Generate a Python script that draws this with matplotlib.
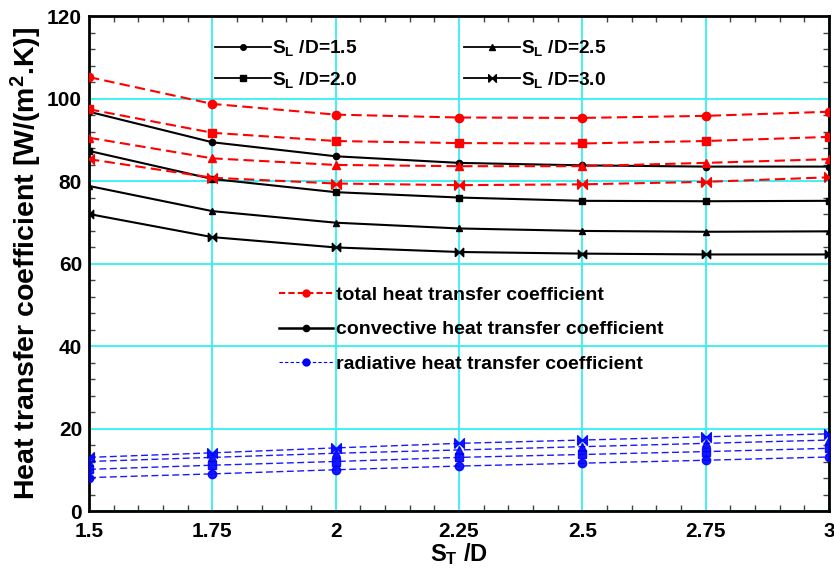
import numpy as np
import matplotlib
matplotlib.use("Agg")
import matplotlib.pyplot as plt
from matplotlib.lines import Line2D
from matplotlib.ticker import MultipleLocator

plt.rcParams["font.family"] = "Liberation Sans"
plt.rcParams["font.weight"] = "bold"
plt.rcParams["axes.labelweight"] = "bold"
plt.rcParams["mathtext.fontset"] = "custom"
plt.rcParams["mathtext.rm"] = "Liberation Sans:bold"
plt.rcParams["mathtext.it"] = "Liberation Sans:bold"
plt.rcParams["mathtext.bf"] = "Liberation Sans:bold"
plt.rcParams["mathtext.default"] = "rm"

# S_T/D values
st_d = [1.5, 1.75, 2.0, 2.25, 2.5, 2.75, 3.0]
st_labels = ["1.5", "1.75", "2", "2.25", "2.5", "2.75", "3"]
sl_d = ["1.5", "2.0", "2.5", "3.0"]

# total heat transfer coefficient, one list per S_L/D
h_total_15 = [105.2, 98.7, 96.1, 95.4, 95.3, 95.8, 96.8]
h_total_20 = [97.4, 91.7, 89.7, 89.2, 89.1, 89.7, 90.7]
h_total_25 = [90.5, 85.5, 83.9, 83.6, 83.6, 84.4, 85.3]
h_total_30 = [85.3, 80.8, 79.4, 79.0, 79.2, 79.8, 80.9]

# convective part
h_conv_15 = [96.8, 89.4, 86.0, 84.4, 83.8, 83.5, 83.5]
h_conv_20 = [87.3, 80.5, 77.3, 76.0, 75.2, 75.1, 75.2]
h_conv_25 = [78.8, 72.7, 69.9, 68.5, 67.9, 67.7, 67.8]
h_conv_30 = [72.0, 66.4, 63.9, 62.8, 62.4, 62.2, 62.2]

# radiative part
h_rad_15 = [8.1, 9.0, 10.0, 10.9, 11.6, 12.3, 13.1]
h_rad_20 = [10.1, 11.1, 12.0, 13.0, 13.7, 14.4, 15.2]
h_rad_25 = [12.0, 13.0, 14.0, 14.8, 15.6, 16.4, 17.2]
h_rad_30 = [13.0, 14.1, 15.3, 16.4, 17.2, 18.0, 18.7]

h_total = [h_total_15, h_total_20, h_total_25, h_total_30]
h_conv = [h_conv_15, h_conv_20, h_conv_25, h_conv_30]
h_rad = [h_rad_15, h_rad_20, h_rad_25, h_rad_30]

bowtie = [(-1, -1), (-1, 1), (0, 0), (1, 1), (1, -1), (0, 0), (-1, -1)]
markers = ["o", "s", "^", bowtie]
red_ms = [6, 6, 6, 7]
blk_ms = [4.5, 4.5, 4.5, 6]

fig = plt.figure(figsize=(8.34, 5.73), dpi=100)
ax = fig.add_axes([0.1067, 0.1082, 0.8873, 0.8638])

for i in range(4):
    ax.plot(st_d, h_total[i], color="red", ls=(0, (5, 2.5)), lw=1.5,
            marker=markers[i], ms=red_ms[i], mfc="red", mec="red", zorder=3)
    ax.plot(st_d, h_conv[i], color="black", ls="-", lw=1.5,
            marker=markers[i], ms=blk_ms[i], mfc="black", mec="black", zorder=3)
    ax.plot(st_d, h_rad[i], color="blue", ls=(0, (5, 2.5)), lw=1.0, alpha=0.9,
            marker=markers[i], ms=red_ms[i], mfc="blue", mec="blue", zorder=3)

ax.set_xlim(1.5, 3.0)
ax.set_ylim(0, 120)
ax.set_xticks(st_d)
ax.set_xticklabels(st_labels)
ax.xaxis.set_minor_locator(MultipleLocator(0.05))
ax.yaxis.set_major_locator(MultipleLocator(20))
ax.yaxis.set_minor_locator(MultipleLocator(4))
ax.grid(True, which="major", color="#33f0f0", lw=1.3, zorder=0)
ax.tick_params(which="both", direction="in", top=True, right=True,
               labelsize=15)
ax.tick_params(axis="x", pad=8)
ax.tick_params(axis="y", pad=5)
ax.tick_params(which="major", length=0)
ax.tick_params(which="minor", length=4, width=1, color="#444444")
for sp in ax.spines.values():
    sp.set_linewidth(2)

ax.set_xlabel("S$_T$ /D", fontsize=17, labelpad=0)
ax.set_ylabel("Heat transfer coefficient [W/(m$^2$.K)]", fontsize=20.5, labelpad=2)

# legend for the S_L/D series (black, marker shapes)
sl_handles = [Line2D([], [], color="black", lw=1.3, marker=markers[i],
                     ms=blk_ms[i] - 0.5, mfc="black") for i in range(4)]
sl_text = ["S$_L$ /D=" + s for s in sl_d]
leg1 = ax.legend(sl_handles, sl_text,
                 ncol=2, loc="upper left", bbox_to_anchor=(0.147, 0.99),
                 frameon=False, fontsize=13.8, handlelength=2.9,
                 handletextpad=0.05, columnspacing=5.6, labelspacing=0.6)
ax.add_artist(leg1)

# legend for the coefficient type
kind_handles = [
    Line2D([], [], color="red", ls=(0, (3, 1.5)), lw=1.5, marker="o", ms=5, mfc="red"),
    Line2D([], [], color="black", ls="-", lw=1.8, marker="o", ms=4.5, mfc="black"),
    Line2D([], [], color="blue", ls=(0, (3, 2)), lw=0.8, marker="o", ms=5, mfc="blue"),
]
kind_text = ["total heat transfer coefficient",
             "convective heat transfer coefficient",
             "radiative heat transfer coefficient"]
ax.legend(kind_handles, kind_text, loc="upper left",
          bbox_to_anchor=(0.233, 0.489), frameon=False, fontsize=14,
          handlelength=2.8, handletextpad=0.12, labelspacing=0.86)

fig.savefig("out.png", dpi=100)
